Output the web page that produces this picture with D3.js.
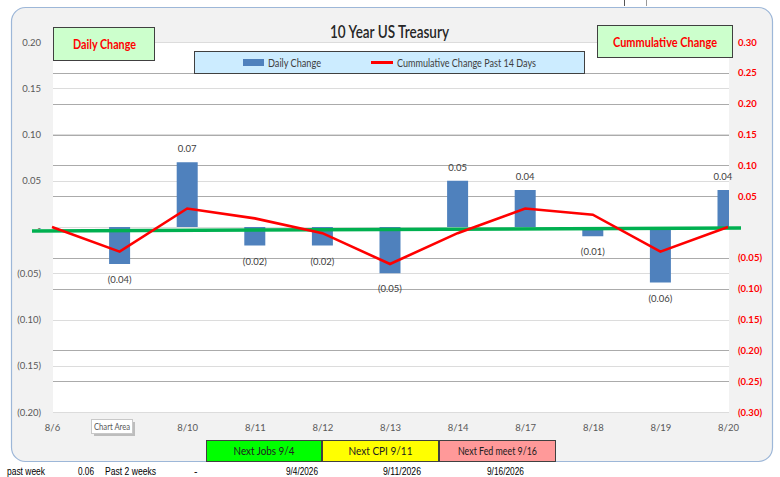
<!DOCTYPE html>
<html>
<head>
<meta charset="utf-8">
<script src="https://cdn.jsdelivr.net/npm/d3@7"></script>
<style>
  html, body { margin: 0; padding: 0; background: #ffffff; }
  svg { display: block; }
</style>
</head>
<body>
<svg id="chart" width="780" height="477"></svg>
<script>
// ---------------- data ----------------
const categories = ["8/6","8/7","8/10","8/11","8/12","8/13","8/14","8/17","8/18","8/19","8/20"];
const dailyChange = [0, -0.04, 0.07, -0.02, -0.02, -0.05, 0.05, 0.04, -0.01, -0.06, 0.04];
const cumulativeChange = [0.00, -0.04, 0.03, 0.014, -0.01, -0.06, -0.01, 0.03, 0.02, -0.04, 0.00];
const leftTicks = [-0.20, -0.15, -0.10, -0.05, 0, 0.05, 0.10, 0.15, 0.20];
const rightTicks = [-0.30, -0.25, -0.20, -0.15, -0.10, -0.05, 0, 0.05, 0.10, 0.15, 0.20, 0.25, 0.30];
const titleText = "10 Year US Treasury";
const legendLabels = ["Daily Change", "Cummulative Change Past 14 Days"];
const eventLabels = ["Next Jobs 9/4", "Next CPI 9/11", "Next Fed meet 9/16"];
const eventColors = ["#00FF00", "#FFFF00", "#FF9999"];
const footerLabels = ["past week", "0.06", "Past 2 weeks", "-", "9/4/2026", "9/11/2026", "9/16/2026"];

// ---------------- layout ----------------
const svg = d3.select("#chart");
const FONT = "Lato, 'Open Sans', sans-serif";
const plot = { left: 53, right: 729, top: 42, bottom: 412 };

const x = d3.scalePoint().domain(categories).range([52, 728]);
const yL = d3.scaleLinear().domain([-0.2, 0.2]).range([plot.bottom, plot.top]);
const yR = d3.scaleLinear().domain([-0.3, 0.3]).range([plot.bottom, plot.top]);

const fmtNum = v => {
  if (Math.abs(v) < 1e-9) return "-";
  const s = Math.abs(v).toFixed(2);
  return v < 0 ? "(" + s + ")" : s;
};

function fitText(sel, len) {
  if (len) sel.attr("textLength", len).attr("lengthAdjust", "spacingAndGlyphs");
  return sel;
}

// outer chart area
svg.append("rect")
  .attr("x", 11.5).attr("y", 7.5).attr("width", 761).attr("height", 454)
  .attr("rx", 14).attr("ry", 14)
  .attr("fill", "#F2F2F2").attr("stroke", "#9DB7D8").attr("stroke-width", 1.2);

// tiny cell border marks at the top
svg.append("line").attr("x1", 624.5).attr("x2", 624.5).attr("y1", 0).attr("y2", 6).attr("stroke", "#555").attr("stroke-width", 1);
svg.append("line").attr("x1", 646.5).attr("x2", 646.5).attr("y1", 0).attr("y2", 6).attr("stroke", "#999").attr("stroke-width", 1);

// plot area
svg.append("rect")
  .attr("x", plot.left).attr("y", plot.top)
  .attr("width", plot.right - plot.left).attr("height", plot.bottom - plot.top)
  .attr("fill", "#FFFFFF");

// gridlines (right axis, darker) then left axis (lighter)
const grid = svg.append("g");
grid.selectAll("line.gr").data(rightTicks).join("line")
  .attr("class", "gr")
  .attr("x1", plot.left).attr("x2", plot.right)
  .attr("y1", d => Math.round(yR(d)) + 0.5).attr("y2", d => Math.round(yR(d)) + 0.5)
  .attr("stroke", "#ABABAB").attr("stroke-width", 1.2);
grid.selectAll("line.gl").data(leftTicks).join("line")
  .attr("class", "gl")
  .attr("x1", plot.left).attr("x2", plot.right)
  .attr("y1", d => Math.round(yL(d)) + 0.5).attr("y2", d => Math.round(yL(d)) + 0.5)
  .attr("stroke", "#DCDCDC").attr("stroke-width", 1.2);

// left axis
const axL = svg.append("g").attr("transform", `translate(${plot.left},0)`)
  .call(d3.axisLeft(yL).tickValues(leftTicks).tickFormat(fmtNum).tickSize(0).tickPadding(12));
axL.select(".domain").remove();
axL.selectAll("text").attr("font-family", FONT).attr("font-size", 9.5).attr("fill", "#595959");

// right axis
const axR = svg.append("g").attr("transform", `translate(${plot.right},0)`)
  .call(d3.axisRight(yR).tickValues(rightTicks.filter(d => d !== 0)).tickFormat(fmtNum).tickSize(0).tickPadding(9));
axR.select(".domain").remove();
axR.selectAll("text").attr("font-family", FONT).attr("font-size", 9.5).attr("font-weight", "bold").attr("fill", "#FF0000");

// bottom axis
const axB = svg.append("g").attr("transform", `translate(0,${plot.bottom})`)
  .call(d3.axisBottom(x).tickSize(0).tickPadding(12));
axB.select(".domain").remove();
axB.selectAll("text").attr("font-family", FONT).attr("font-size", 9.5).attr("fill", "#595959");

// clip path for bars
svg.append("clipPath").attr("id", "plotClip").append("rect")
  .attr("x", plot.left).attr("y", plot.top)
  .attr("width", plot.right - plot.left).attr("height", plot.bottom - plot.top);

const barW = 21;
const barData = categories.map((c, i) => ({ c, v: dailyChange[i] }));
svg.append("g").attr("clip-path", "url(#plotClip)")
  .selectAll("rect").data(barData.filter(d => d.v !== 0)).join("rect")
  .attr("x", d => x(d.c) - barW / 2)
  .attr("width", barW)
  .attr("y", d => Math.min(yL(d.v), yL(0)))
  .attr("height", d => Math.abs(yL(d.v) - yL(0)))
  .attr("fill", "#4F81BD");

// bar labels
svg.append("g").selectAll("text").data(barData.filter(d => d.v !== 0)).join("text")
  .attr("x", d => x(d.c) - (d.c === "8/20" ? 5 : 0))
  .attr("y", d => d.v > 0 ? yL(d.v) - 10 : yL(d.v) + 19)
  .attr("text-anchor", "middle")
  .attr("font-family", FONT).attr("font-size", 9.5).attr("fill", "#404040")
  .text(d => fmtNum(d.v));

// green zero reference line
svg.append("line")
  .attr("x1", 32).attr("x2", 741)
  .attr("y1", yL(0) + 4).attr("y2", yL(0) + 1)
  .attr("stroke", "#00B050").attr("stroke-width", 3.5);

// cumulative line
const line = d3.line().x((d, i) => x(categories[i])).y(d => yR(d));
svg.append("path").datum(cumulativeChange)
  .attr("d", line)
  .attr("fill", "none").attr("stroke", "#FF0000").attr("stroke-width", 2.6)
  .attr("stroke-linejoin", "miter");

// title
fitText(svg.append("text").attr("x", 330).attr("y", 37.5)
  .attr("font-family", FONT).attr("font-size", 17).attr("font-weight", 600).attr("fill", "#262626")
  .text(titleText), 119);

// "Daily Change" box
svg.append("rect").attr("x", 53.5).attr("y", 27.5).attr("width", 101).attr("height", 33)
  .attr("fill", "#CCFFCC").attr("stroke", "#404040").attr("stroke-width", 1);
fitText(svg.append("text").attr("x", 73).attr("y", 48.5)
  .attr("font-family", FONT).attr("font-size", 13).attr("font-weight", "bold").attr("fill", "#FF0000")
  .text("Daily Change"), 63);

// "Cummulative Change" box
svg.append("rect").attr("x", 597.5).attr("y", 25.5).attr("width", 135).attr("height", 32)
  .attr("fill", "#CCFFCC").attr("stroke", "#404040").attr("stroke-width", 1);
fitText(svg.append("text").attr("x", 613).attr("y", 46.5)
  .attr("font-family", FONT).attr("font-size", 13).attr("font-weight", "bold").attr("fill", "#FF0000")
  .text("Cummulative Change"), 104);

// legend
svg.append("rect").attr("x", 194.5).attr("y", 51.5).attr("width", 390).attr("height", 22)
  .attr("fill", "#CCECFF").attr("stroke", "#404040").attr("stroke-width", 1);
svg.append("rect").attr("x", 243).attr("y", 59).attr("width", 21).attr("height", 7).attr("fill", "#4F81BD");
fitText(svg.append("text").attr("x", 268).attr("y", 66.5)
  .attr("font-family", FONT).attr("font-size", 10.5).attr("fill", "#404040").text(legendLabels[0]), 53);
svg.append("line").attr("x1", 371).attr("x2", 393).attr("y1", 62.5).attr("y2", 62.5)
  .attr("stroke", "#FF0000").attr("stroke-width", 3);
fitText(svg.append("text").attr("x", 397).attr("y", 66.5)
  .attr("font-family", FONT).attr("font-size", 10.5).attr("fill", "#404040").text(legendLabels[1]), 139);

// "Chart Area" tooltip (covers the 8/7 axis label, as in the reference)
svg.append("rect").attr("x", 94).attr("y", 422).attr("width", 41).attr("height", 14).attr("fill", "#999999").attr("opacity", 0.6);
svg.append("rect").attr("x", 91.5).attr("y", 419.5).attr("width", 41).attr("height", 14)
  .attr("fill", "#FFFFFF").attr("stroke", "#C8C8C8").attr("stroke-width", 1);
fitText(svg.append("text").attr("x", 94).attr("y", 430)
  .attr("font-family", FONT).attr("font-size", 9.5).attr("fill", "#575757").text("Chart Area"), 36);

// event boxes
const evX = [206.5, 322.5, 439.5];
const evW = [115, 116, 116];
const evTextW = [61, 64, 79];
eventLabels.forEach((t, i) => {
  svg.append("rect").attr("x", evX[i]).attr("y", 440.5).attr("width", evW[i]).attr("height", 21)
    .attr("fill", eventColors[i]).attr("stroke", "#404040").attr("stroke-width", 1);
  fitText(svg.append("text").attr("x", evX[i] + evW[i] / 2 - evTextW[i] / 2).attr("y", 455)
    .attr("font-family", FONT).attr("font-size", 11).attr("fill", "#202020")
    .text(t), evTextW[i]);
});

// footer spreadsheet cells
const footX = [7, 78, 105, 194, 286, 383, 487];
const footW = [38, 16, 51, 0, 32, 38, 37];
footerLabels.forEach((t, i) => {
  fitText(svg.append("text").attr("x", footX[i]).attr("y", 474.5)
    .attr("font-family", "'Liberation Sans', Arial, sans-serif").attr("font-size", 10.5).attr("fill", "#000")
    .text(t), footW[i]);
});
</script>
</body>
</html>
